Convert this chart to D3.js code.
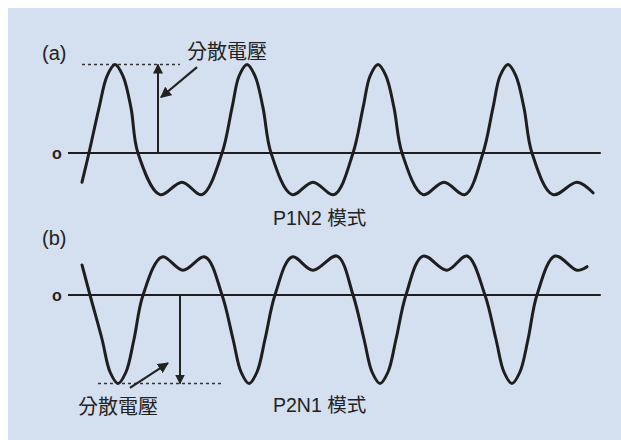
<!DOCTYPE html>
<html lang="zh-Hant">
<head>
  <meta charset="UTF-8">
  <title>P1N2 / P2N1</title>
  <script src="https://cdn.jsdelivr.net/npm/d3@7"></script>
  <style>
    html, body { margin: 0; padding: 0; background: #ffffff; }
    svg { display: block; }
    .lbl { font-family: "Liberation Sans", Arial, "Noto Sans CJK TC", sans-serif; fill: #222; }
    .cjk { font-family: "Liberation Sans", "Noto Sans CJK TC", sans-serif; fill: #222; }
  </style>
</head>
<body>
<script>
// time in arbitrary units (period = 10), voltage normalised so the P1N2 peak = 1
const waveA_t = [0, 0.53, 1.30, 1.91, 2.52, 3.13, 3.74, 4.27, 5.95, 7.63, 9.16,
                 10.69, 11.45, 11.99, 12.60, 13.21, 13.82, 14.43, 16.03, 17.63, 19.24,
                 20.69, 21.45, 21.99, 22.60, 23.21, 23.82, 24.43, 26.03, 27.63, 29.24,
                 30.61, 31.37, 31.91, 32.52, 33.13, 33.74, 34.35, 35.95, 37.79, 39.01];
const waveA_v = [-0.33, 0, 0.51, 0.87, 1.0, 0.87, 0.51, 0, -0.47, -0.33, -0.47,
                 0, 0.51, 0.87, 1.0, 0.87, 0.51, 0, -0.47, -0.33, -0.47,
                 0, 0.51, 0.87, 1.0, 0.87, 0.51, 0, -0.47, -0.33, -0.47,
                 0, 0.51, 0.87, 1.0, 0.87, 0.51, 0, -0.47, -0.33, -0.45];

const waveB_t = [0, 0.61, 1.53, 2.14, 2.75, 3.36, 3.97, 4.66, 6.11, 7.71, 9.39,
                 10.69, 11.53, 12.14, 12.75, 13.36, 13.97, 14.73, 16.03, 17.63, 19.47,
                 20.69, 21.53, 22.14, 22.75, 23.36, 23.97, 24.73, 26.03, 27.86, 29.39,
                 30.76, 31.60, 32.21, 32.82, 33.43, 34.05, 34.73, 36.11, 37.79, 38.55];
const waveB_v = [0.34, 0, -0.5, -0.87, -1.0, -0.87, -0.5, 0, 0.43, 0.28, 0.43,
                 0, -0.5, -0.87, -1.0, -0.87, -0.5, 0, 0.43, 0.28, 0.44,
                 0, -0.5, -0.87, -1.0, -0.87, -0.5, 0, 0.44, 0.28, 0.44,
                 0, -0.5, -0.87, -1.0, -0.87, -0.5, 0, 0.44, 0.28, 0.32];

const axisExtent = [-1.07, 39.6];

// annotation positions (t, v)
const dispA = { t: 5.8, v0: 0, v1: 1.0, dash: [0, 7.48] };
const dispB = { t: 7.48, v0: 0, v1: -1.0, dash: [1.22, 10.76] };
const pointerA = [[8.78, 0.97], [6.03, 0.63]];
const pointerB = [[3.66, -1.05], [6.56, -0.77]];

const panelLabels = ["(a)", "(b)"];
const modeLabels = ["P1N2 模式", "P2N1 模式"];
const dispLabel = "分散電壓";
const zeroLabel = "o";

const W = 621, H = 440;

const svg = d3.select("body").append("svg")
  .attr("width", W).attr("height", H);

svg.append("rect")
  .attr("x", 8).attr("y", 8)
  .attr("width", W - 8).attr("height", H - 8)
  .attr("fill", "#d4dff0");

const defs = svg.append("defs");
defs.append("marker")
  .attr("id", "arrow")
  .attr("viewBox", "0 0 10 10")
  .attr("refX", 9).attr("refY", 5)
  .attr("markerWidth", 5).attr("markerHeight", 5)
  .attr("orient", "auto-start-reverse")
  .append("path")
  .attr("d", "M0,0 L10,5 L0,10 z")
  .attr("fill", "#222");

const x = d3.scaleLinear().domain([0, 40]).range([82, 606]);
const yA = d3.scaleLinear().domain([0, 1]).range([153, 64.5]);
const yB = d3.scaleLinear().domain([0, 1]).range([295, 206.5]);

function drawPanel(ts, vs, y, disp, pointer, idx) {
  const g = svg.append("g");

  // zero line
  g.append("line")
    .attr("x1", x(axisExtent[0])).attr("x2", x(axisExtent[1]))
    .attr("y1", y(0)).attr("y2", y(0))
    .attr("stroke", "#1e1e1e").attr("stroke-width", 2.2);

  g.append("text")
    .attr("class", "lbl")
    .attr("x", x(axisExtent[0]) - 11).attr("y", y(0))
    .attr("text-anchor", "middle").attr("dominant-baseline", "central")
    .attr("font-size", 16).attr("font-weight", "bold")
    .text(zeroLabel);

  // dashed reference
  g.append("line")
    .attr("x1", x(disp.dash[0])).attr("x2", x(disp.dash[1]))
    .attr("y1", y(disp.v1)).attr("y2", y(disp.v1))
    .attr("stroke", "#333").attr("stroke-width", 1.5)
    .attr("stroke-dasharray", "3,3");

  // dispersion voltage arrow
  g.append("line")
    .attr("x1", x(disp.t)).attr("x2", x(disp.t))
    .attr("y1", y(disp.v0)).attr("y2", y(disp.v1))
    .attr("stroke", "#222").attr("stroke-width", 2)
    .attr("marker-end", "url(#arrow)");

  // pointer arrow
  g.append("line")
    .attr("x1", x(pointer[0][0])).attr("y1", y(pointer[0][1]))
    .attr("x2", x(pointer[1][0])).attr("y2", y(pointer[1][1]))
    .attr("stroke", "#222").attr("stroke-width", 2.2)
    .attr("marker-end", "url(#arrow)");

  // waveform
  const pts = ts.map((t, i) => [t, vs[i]]);
  const line = d3.line()
    .x(d => x(d[0]))
    .y(d => y(d[1]))
    .curve(d3.curveCatmullRom.alpha(0.5));
  g.append("path")
    .datum(pts)
    .attr("d", line)
    .attr("fill", "none")
    .attr("stroke", "#1e1e1e")
    .attr("stroke-width", 3)
    .attr("stroke-linejoin", "round")
    .attr("stroke-linecap", "round");

  g.append("text")
    .attr("class", "lbl")
    .attr("x", 42).attr("y", idx === 0 ? 60 : 245)
    .attr("font-size", 20)
    .text(panelLabels[idx]);

  g.append("text")
    .attr("class", "cjk")
    .attr("x", 273).attr("y", idx === 0 ? 225 : 412)
    .attr("font-size", 19.5)
    .text(modeLabels[idx]);
}

drawPanel(waveA_t, waveA_v, yA, dispA, pointerA, 0);
drawPanel(waveB_t, waveB_v, yB, dispB, pointerB, 1);

svg.append("text")
  .attr("class", "cjk")
  .attr("x", 187).attr("y", 59)
  .attr("font-size", 20)
  .text(dispLabel);

svg.append("text")
  .attr("class", "cjk")
  .attr("x", 78).attr("y", 414)
  .attr("font-size", 20)
  .text(dispLabel);
</script>
</body>
</html>
